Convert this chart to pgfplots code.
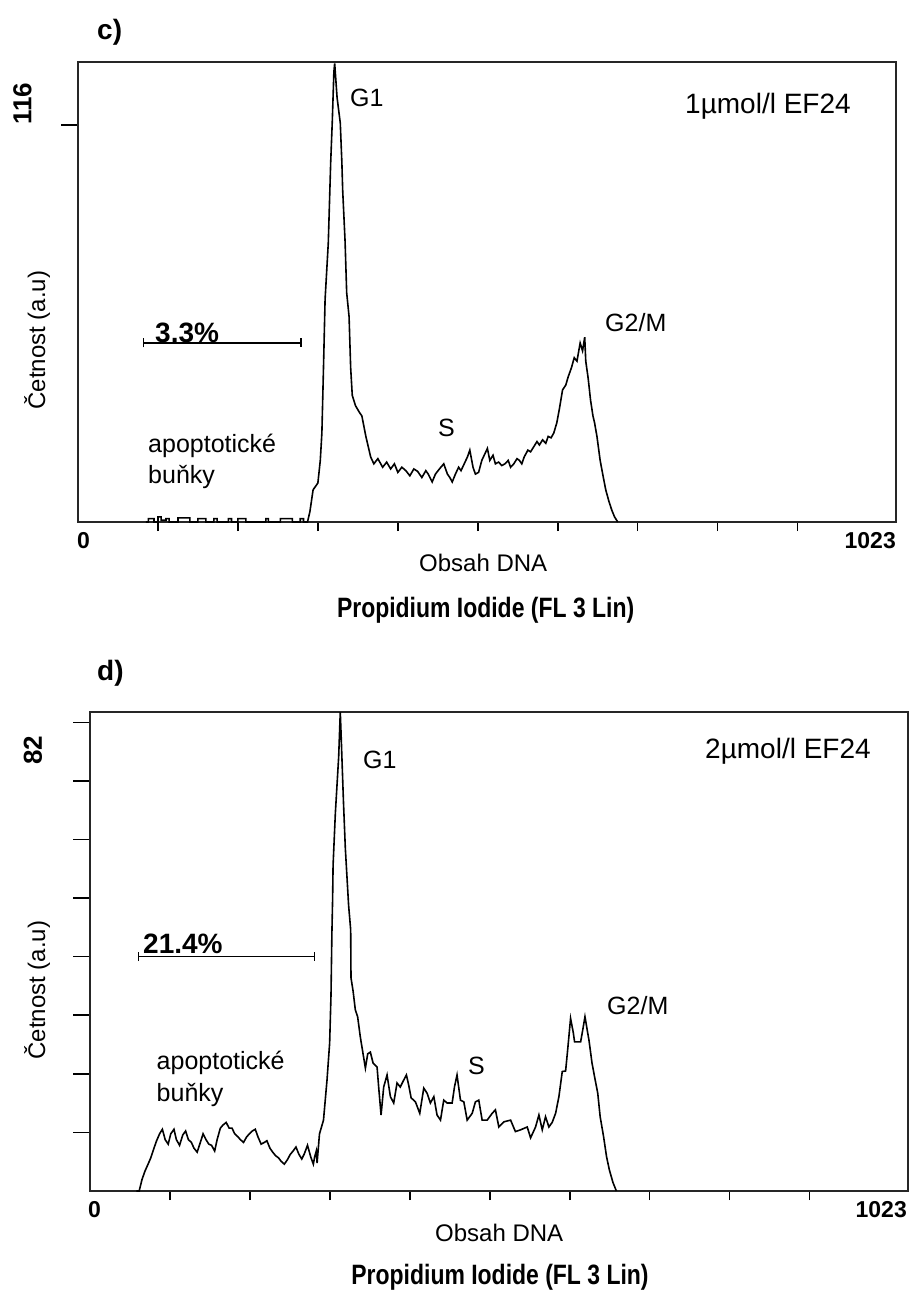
\documentclass[border=0pt]{standalone}
\usepackage{fontspec}
\setmainfont{Liberation Sans}
\newfontfamily\cfont[FakeStretch=0.82]{Liberation Sans}
\usepackage{pgfplots}
\pgfplotsset{compat=1.18}
\usetikzlibrary{arrows.meta}
\pgfplotsset{
  flow/.style={
    scale only axis, anchor=south west, width=818pt,
    xmin=0, xmax=1023, ymin=0,
    xtick={100,200,...,900}, xticklabels={}, yticklabels={},
    xtick pos=left, ytick pos=left, tick align=outside,
    axis line style={line width=1.7pt, black!85},
    xtick style={/pgfplots/major tick length=9pt, line width=1.5pt, black},
    ytick style={/pgfplots/major tick length=17pt, line width=1.5pt, black},
  }
}
\newcommand\fs[1]{\fontsize{#1}{#1}\selectfont}
\begin{document}
\begin{tikzpicture}
\useasboundingbox (0,0) rectangle (909pt,-1292pt);
% ---------- panel c ----------
\begin{axis}[flow, at={(78pt,-522pt)}, height=460pt, ymax=134.4, ytick={116}]
\addplot[black, line width=1.6pt] coordinates {
(85,0)(88,0)(88,1)(95,1)(95,0)(100,0)(100,1.5)(104,1.5)(104,0.5)(110,0.5)(110,1)(114,1)(114,0)
(125,0)(125,1.2)(140,1.2)(140,0)(150,0)(150,1)(160,1)(160,0)(170,0)(170,1)(174,1)(174,0)
(188,0)(188,1)(192,1)(192,0)(200,0)(200,1)(210,1)(210,0)(235,0)(235,1)(238,1)(238,0)
(253,0)(253,1)(268,1)(268,0)(278,0)(278,1)(282,1)(282,0)(287,0)
(290,3)(294,9.4)(300,11.4)(303,18)(305,26)(307,45)(309,65)(313,81.5)(316,105)(318,117)
(320,131.5)(321,134)(324,124)(328,116.6)(330,105)(331,97)(334,82)(336,67)(339,60)(341,45)
(343,37)(347,34)(352,32)(355,31)(360,25)(366,19)(370,17)(375,18.5)(381,16)(386,17.5)
(391,15.5)(395.7,17)(400,14.5)(405,16)(410,15)(415,13.5)(420,15.5)(424.7,14.8)(430,13)
(435,15)(438,14)(442.9,11.7)(447,14)(452,15.5)(457.4,17)(462,14)(465,13)(468,11.7)(472,14)
(476,16)(479,15)(483,17)(487,19)(490,21)(494,16)(497,14)(501,14.5)(505,18)(509,20)(512,21.5)
(515,18)(519,19.5)(522,17)(526,17.5)(530,16.5)(534,17)(538,18)(541,16)(545,17)(549,18.5)
(552,18)(555,17)(558,19)(562.6,21)(566,20.5)(570,22)(574,23.5)(577,22.5)(581,24)(585,23)
(588,25)(591.6,24.6)(595,26)(598.8,29)(602,33)(606,38.6)(610,40)(613,42.4)(617,45)(620.6,48)
(624,47)(628,52.3)(631,50)(633.7,54)(635,47)(638,42)(641,35.6)(644,31)(646,29)(649,25)
(653,18)(657,13)(660,9.4)(664,6)(667.5,3.5)(671,1.5)(675,0)
};
\draw[{Bar[width=9pt]}-{Bar[width=9pt]}, line width=1.4pt] (axis cs:81,52.3) -- (axis cs:280,52.3);
\end{axis}
% ---------- panel d ----------
\begin{axis}[flow, at={(90pt,-1191pt)}, height=479pt, ymax=83.8,
  ytick={10.25,20.5,30.75,41,51.25,61.5,71.75,82}]
\addplot[black, line width=1.6pt] coordinates {
(58,0)(61.5,0)(65,2)(68.8,3.5)(72,4.5)(76,5.8)(80,7.5)(83.3,8.8)(87,10)(90.5,10.8)(94,9)
(97.8,8.2)(101,10)(105,10.8)(108,9)(112,8)(116,9.8)(119.6,10.5)(123,9)(126.8,8.5)(130,7.5)
(134,6.8)(138,8.5)(141.4,10)(145,9)(148.6,8.2)(152,8)(155.9,7)(159,9)(163,11)(166,11.5)
(170.3,12)(174,11)(177.6,11)(181,10)(184.9,9.5)(188,9)(192,8.5)(196,9.5)(199.4,10)(203,10.5)
(206.7,10.8)(210,9.5)(214,8.2)(218,8.5)(221.2,8.8)(225,7.5)(228.5,6.8)(232,6.2)(235.8,5.8)
(239,5.2)(243,4.7)(247,5.5)(250.4,6.4)(254,7)(257.6,7.7)(261,6.5)(264.8,5.6)(268,6.5)(272,8)
(276,6)(279.3,4.7)(281,6)(283,7)(284,4.9)(287,10)(292,12.4)(296.4,19.4)(299.7,25.9)
(301.4,34.3)(302.5,45)(303.4,51)(304,57)(306.8,66)(311,76)(313,83.8)(314,80)(317,68)
(319.3,60)(323.4,50)(326,45.7)(326.4,37.3)(329,35)(331.8,31.7)(334.7,30.5)(338,27)
(341.5,24)(344.4,21.5)(347.3,24)(350.6,24.3)(354,22.4)(359,21.7)(361,18.2)(364,13.3)
(367.3,18.2)(371.5,20.3)(375.7,16.5)(379.8,15.4)(384,18.9)(388,18.2)(392.3,19.4)(395.7,20.3)
(398.6,18.5)(401.6,16.3)(407,15.6)(412.4,13.6)(417.4,18)(421.6,17.1)(425.7,15.4)(430,16.5)
(434,13.3)(438.3,12.4)(442.4,15.9)(446.6,15.4)(452.9,15.4)(455.8,18.2)(459,20.3)(463.3,15.9)
(467.5,15.6)(471.7,12.4)(478,13.6)(482,15.6)(486.2,15.9)(490.4,12.4)(496.7,12.4)(503,13.6)
(507,14.2)(511.3,11.2)(517.5,12.1)(526,12.4)(532,10.4)(538.4,10.7)(546.8,11.2)(551,9.3)
(557.2,11.2)(561.4,13.3)(565.6,10.7)(569.7,13)(573.9,11.2)(578,12)(582.3,13.6)(586.4,16.5)
(590.6,20.9)(594.8,21)(597.7,25.2)(601,30.2)(604.4,27.7)(606,26.1)(613.6,26.1)(616,28)
(619,30.5)(622,28)(624,26.4)(627.8,22.4)(631,20)(635,17.1)(638,13)(642.3,9.5)(646,6)
(649.5,3.7)(654,1.5)(658.3,0)
};
\draw[{Bar[width=9pt]}-{Bar[width=9pt]}, line width=1.4pt] (axis cs:60,41) -- (axis cs:282,41);
\end{axis}
% ---------- texts panel c ----------
\tikzset{t/.style={inner sep=0pt, anchor=base west}}
\node[t, font=\fs{28}\bfseries] at (97pt,-40pt) {c)};
\node[t, font=\fs{25}] at (350pt,-106.7pt) {G1};
\node[t, font=\fs{28}] at (685pt,-114pt) {1µmol/l EF24};
\node[t, font=\fs{28}\bfseries] at (155pt,-342pt) {3.3\%};
\node[t, font=\fs{25}] at (605pt,-331.7pt) {G2/M};
\node[t, font=\fs{25}] at (438pt,-436.7pt) {S};
\node[t, font=\fs{25}] at (148pt,-452.7pt) {apoptotické};
\node[t, font=\fs{25}] at (148pt,-483.3pt) {buňky};
\node[inner sep=0pt, rotate=90, font=\fs{24}] at (37pt,-340pt) {Četnost (a.u)};
\node[inner sep=0pt, rotate=90, font=\fs{26}\bfseries] at (22.5pt,-104pt) {116};
\node[t, font=\fs{23}\bfseries] at (77pt,-548pt) {0};
\node[inner sep=0pt, anchor=base east, font=\fs{23}\bfseries] at (896pt,-548pt) {1023};
\node[t, font=\fs{24}] at (419pt,-571pt) {Obsah DNA};
\node[inner sep=0pt, anchor=base, font=\fs{28}\cfont\bfseries] at (485.6pt,-617pt) {Propidium Iodide (FL 3 Lin)};
% ---------- texts panel d ----------
\node[t, font=\fs{28}\bfseries] at (97pt,-680pt) {d)};
\node[t, font=\fs{25}] at (363pt,-768pt) {G1};
\node[t, font=\fs{28}] at (705pt,-758pt) {2µmol/l EF24};
\node[t, font=\fs{28}\bfseries] at (143pt,-953pt) {21.4\%};
\node[t, font=\fs{25}] at (607pt,-1014pt) {G2/M};
\node[t, font=\fs{25}] at (468pt,-1074pt) {S};
\node[t, font=\fs{25}] at (156.5pt,-1069pt) {apoptotické};
\node[t, font=\fs{25}] at (156.5pt,-1101.7pt) {buňky};
\node[inner sep=0pt, rotate=90, font=\fs{24}] at (37pt,-990pt) {Četnost (a.u)};
\node[inner sep=0pt, rotate=90, font=\fs{26}\bfseries] at (33pt,-750pt) {82};
\node[t, font=\fs{23}\bfseries] at (88pt,-1217pt) {0};
\node[inner sep=0pt, anchor=base east, font=\fs{23}\bfseries] at (907pt,-1217pt) {1023};
\node[t, font=\fs{24}] at (435pt,-1241.7pt) {Obsah DNA};
\node[inner sep=0pt, anchor=base, font=\fs{28}\cfont\bfseries] at (500pt,-1284pt) {Propidium Iodide (FL 3 Lin)};
\end{tikzpicture}
\end{document}
